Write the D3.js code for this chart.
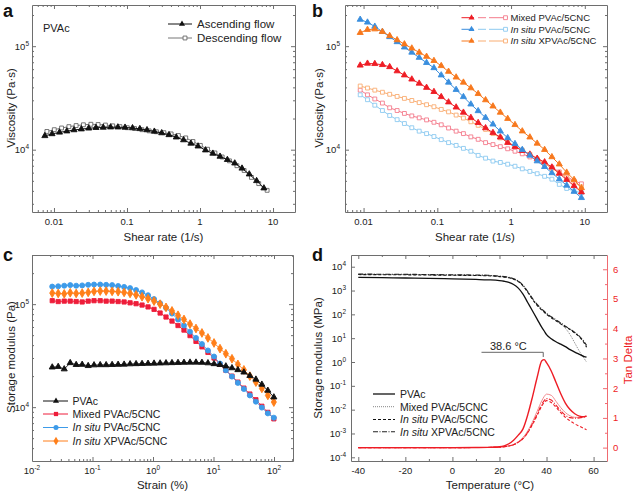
<!DOCTYPE html>
<html><head><meta charset="utf-8">
<script src="https://cdn.jsdelivr.net/npm/d3@7/dist/d3.min.js"></script>
<style>body{margin:0;background:#fff}svg{display:block}</style>
</head><body>
<svg id="c" width="633" height="494"></svg>
<script>
// ---------------- DATA ----------------
// Panel a
const aRateAsc = [0.0075,0.0094,0.0119,0.015,0.0188,0.0237,0.0299,0.0376,0.0473,0.0596,0.075,0.094,0.119,0.15,0.188,0.237,0.299,0.376,0.473,0.596,0.75,0.94,1.19,1.5,1.88,2.37,2.99,3.76,4.73,5.96,7.5];
const aAscending = [13600,14200,14700,15100,15500,15800,16100,16300,16400,16500,16500,16400,16200,15900,15500,15000,14500,13900,13200,12400,11500,10800,9900,9200,8600,8000,7400,6600,5800,5000,4250];
const aRateDesc = [0.008,0.0101,0.0127,0.016,0.0201,0.0253,0.032,0.0402,0.0506,0.0637,0.08,0.101,0.127,0.16,0.201,0.253,0.32,0.402,0.506,0.637,0.8,1.01,1.27,1.6,2.01,2.53,3.2,4.02,5.06,6.37,8.3];
const aDescending = [15000,15600,16200,16700,17100,17400,17600,17500,17300,17000,16700,16300,16000,15600,15200,14900,14600,14200,13700,13000,12000,11000,10100,9300,8500,7800,7000,6300,5400,4700,4050];
const aXTicks = [0.01,0.1,1,10];
const aXTickLabels = ["0.01","0.1","1","10"];
const viscTickExp = [4,5];

// Panel b
const bRate = [0.009,0.0113,0.0142,0.018,0.0226,0.0285,0.0358,0.0451,0.0568,0.0715,0.09,0.113,0.142,0.18,0.226,0.285,0.358,0.451,0.568,0.715,0.9,1.13,1.42,1.8,2.26,2.85,3.58,4.51,5.68,7.15,9.0];
const bMixedAsc = [65300,68100,67600,66100,63100,57500,52500,47900,43700,39800,36300,32400,28800,25700,22900,20400,18200,16200,14600,13200,11700,10700,9770,9020,8220,7590,6760,5890,5130,4470,3890];
const bInsituAsc = [181000,170000,155000,138000,123000,110000,97700,87100,77600,69200,61700,52500,44700,38000,32400,27500,23700,20400,17600,15100,13000,11400,10000,8810,7760,6840,5960,5190,4520,3940,3430];
const bXInsituAsc = [134900,144500,146200,138000,125900,114800,104700,95500,87100,79400,72400,64600,56900,50100,44700,39400,34700,30200,26300,22900,19950,17400,15100,13200,11500,10000,8510,7240,6030,5130,4270];
const bMixedDesc = [37600,33900,30900,28200,25400,23900,22400,21200,20300,19400,18400,17400,16200,15100,14300,13300,12600,11700,11200,10700,10200,9660,9120,8510,7940,7240,6760,6100,5500,5010,4680];
const bInsituDesc = [33900,30400,26900,23900,21400,19500,17900,16300,15100,14300,13400,12500,11700,11000,10300,9660,8810,8280,7760,7530,7240,6920,6530,6170,5860,5530,5190,4620,4220,3980,3850];
const bXInsituDesc = [41200,39400,37600,35900,34300,32700,31300,29900,28500,27200,26000,24500,23200,21600,20200,18600,17200,15700,14300,13000,11900,10800,9890,9020,8130,7330,6610,5960,5370,4840,4370];
const bSeriesNames = [["","Mixed PVAc/5CNC"],["In situ"," PVAc/5CNC"],["In situ"," XPVAc/5CNC"]];

// Panel c
const cStrain = [0.0216,0.0271,0.0341,0.0428,0.0537,0.0675,0.0848,0.106,0.134,0.168,0.211,0.265,0.333,0.418,0.525,0.659,0.828,1.04,1.31,1.64,2.06,2.59,3.25,4.09,5.13,6.44,8.09,10.2,12.8,16.0,20.2,25.3,31.8,39.9,50.2,63.0,79.1,99.4];
const cPVAc = [24400,24700,23400,26900,25800,25900,25200,25600,25700,25700,25800,25900,26000,26200,26300,26400,26500,26600,26700,26800,26900,27000,27100,27200,27200,27100,26800,26300,25800,25000,24000,23000,21800,20200,18600,16600,14500,12500];
const cMixed = [108000,106000,107000,107000,106000,105000,107000,108000,108000,107000,107000,106000,105000,103000,101000,98000,94000,89000,82000,75000,68500,62000,56000,49500,43500,38500,34000,30000,26000,22800,20000,17500,15300,13400,11800,10200,8900,7700];
const cInsitu = [148000,149000,151000,153000,151000,152000,154000,155000,155000,154000,153000,150000,147000,143000,137000,130000,122000,112000,102000,92000,81000,71000,62000,54000,47000,41000,35500,31000,26500,22800,19800,17200,15000,13000,11300,9900,8700,7900];
const cXInsitu = [128000,127000,126000,129000,127000,128000,130000,133000,134000,134000,133000,132000,130000,127000,123000,118000,113000,107000,100000,93000,86000,78000,71000,64000,58000,52500,47000,42000,37000,33000,29500,26000,23000,20000,17500,15200,13000,11200];
const cSeriesNames = [["","PVAc"],["","Mixed PVAc/5CNC"],["In situ"," PVAc/5CNC"],["In situ"," XPVAc/5CNC"]];
const cTickExp = [-2,-1,0,1,2];

// Panel d
const dTemp = [-40,-30,-20,-10,0,10,15,20,22,24,26,28,30,32,34,36,38,39,40,42,44,46,48,50,52,54,56,57];
const dEPVAc = [3590,3470,3350,3240,3090,2920,2820,2630,2450,2190,1780,1260,708,316,141,63,28.2,20,14.1,9.5,7.1,5.6,4.4,3.3,2.6,2.1,1.7,1.6];
const dEMixed = [4790,4730,4680,4570,4420,4320,4220,3890,3720,3470,3020,2400,1580,891,447,251,158,129,105,76,55,40,26,14.1,6.3,2.8,1.4,1.0];
const dEInsitu = [4680,4620,4570,4470,4370,4270,4170,3850,3670,3430,2990,2370,1550,851,427,240,151,123,100,72,54,40,30,23,16.6,11.2,6.3,4.2];
const dEXInsitu = [4900,4840,4790,4680,4570,4470,4370,4030,3850,3590,3130,2510,1660,912,468,263,166,135,110,79,59,44,32,24,17.4,12,7.1,5.0];
const dTanPVAc = [0,0,0,0,0,0.005,0.01,0.03,0.06,0.13,0.25,0.42,0.63,1.1,1.7,2.36,2.92,2.96,2.86,2.58,2.2,1.82,1.5,1.28,1.14,1.06,1.04,1.07];
const dTanMixed = [0,0,0,0,0,0.003,0.006,0.015,0.03,0.06,0.11,0.2,0.34,0.56,0.86,1.22,1.58,1.72,1.8,1.76,1.56,1.35,1.18,1.07,1.02,1.02,1.04,1.05];
const dTanInsitu = [0,0,0,0,0,0.003,0.006,0.015,0.03,0.055,0.1,0.18,0.3,0.5,0.77,1.08,1.4,1.52,1.58,1.52,1.36,1.18,1.02,0.9,0.8,0.72,0.64,0.6];
const dTanXInsitu = [0,0,0,0,0,0.003,0.006,0.015,0.03,0.055,0.1,0.18,0.31,0.51,0.8,1.12,1.46,1.58,1.65,1.6,1.43,1.24,1.09,1.01,0.99,1.0,1.03,1.05];
const dXTicks = [-40,-20,0,20,40,60];
const dLeftExp = [-4,-3,-2,-1,0,1,2,3,4];
const dRightTicks = [0,1,2,3,4,5,6];
const dPeakT = 38.6;

// ---------------- DRAWING ----------------
const FONT = '"Liberation Sans", Arial, Helvetica, sans-serif';
const FRAME = "#6e6e6e";
const svg = d3.select("#c").attr("font-family", FONT);

function logMajors(dom){const r=[];for(let e=Math.ceil(Math.log10(dom[0])-1e-9);e<=Math.floor(Math.log10(dom[1])+1e-9);e++)r.push(Math.pow(10,e));return r;}
function logMinors(dom){const r=[];for(let e=Math.floor(Math.log10(dom[0]));e<=Math.floor(Math.log10(dom[1]));e++)for(let m=2;m<=9;m++){const v=m*Math.pow(10,e);if(v>dom[0]&&v<dom[1])r.push(v);}return r;}

function ticks(g, axisFn, scale, tf, majors, minors, color, majLen, minLen){
  const gm = g.append("g").attr("transform", tf)
    .call(axisFn(scale).tickValues(majors).tickSize(-(majLen||4)).tickSizeOuter(0).tickFormat(""));
  gm.select(".domain").attr("stroke", color).attr("stroke-width", 1);
  gm.selectAll(".tick line").attr("stroke", color);
  if (minors && minors.length){
    const gn = g.append("g").attr("transform", tf)
      .call(axisFn(scale).tickValues(minors).tickSize(-(minLen||2)).tickSizeOuter(0).tickFormat(""));
    gn.select(".domain").remove();
    gn.selectAll(".tick line").attr("stroke", color);
  }
}
function frameAxes(g, x, y, box, xMaj, xMin, yMaj, yMin, rightColor){
  const [x0,y0,x1,y1] = box;
  ticks(g, d3.axisBottom, x, `translate(0,${y1})`, xMaj, xMin, FRAME);
  ticks(g, d3.axisTop, x, `translate(0,${y0})`, xMaj, xMin, FRAME);
  ticks(g, d3.axisLeft, y, `translate(${x0},0)`, yMaj, yMin, FRAME);
  if (!rightColor) ticks(g, d3.axisRight, y, `translate(${x1},0)`, yMaj, yMin, FRAME);
}
function supText(g, x, y, exp, anchor, size, color){
  const t = g.append("text").attr("x",x).attr("y",y).attr("text-anchor",anchor)
    .attr("font-size",size).attr("fill",color||"#222");
  t.append("tspan").text("10");
  t.append("tspan").attr("dy",-size*0.42).attr("font-size",size*0.68).text(String(exp));
  return t;
}
function label(g, x, y, txt, opts){
  opts = opts||{};
  const t = g.append("text").attr("x",x).attr("y",y).attr("font-size",opts.size||11)
    .attr("text-anchor",opts.anchor||"start").attr("fill",opts.color||"#222");
  if (opts.bold) t.attr("font-weight","bold");
  if (opts.rotate) t.attr("transform",`rotate(-90,${x},${y})`);
  if (Array.isArray(txt)){
    if (txt[0]) t.append("tspan").attr("font-style","italic").text(txt[0]);
    t.append("tspan").text(txt[1]);
  } else t.text(txt);
  return t;
}
function sym(type, size){ return d3.symbol().type(type).size(size)(); }
function series(g, x, y, xs, ys, color, lineW, symType, symSize, fill, stroke, dash){
  const pts = xs.map((v,i)=>[v, ys[i]]).filter(d=>d[1]!=null);
  g.append("path").datum(pts).attr("fill","none").attr("stroke",color).attr("stroke-width",lineW)
    .attr("stroke-dasharray", dash||null)
    .attr("d", d3.line().x(d=>x(d[0])).y(d=>y(d[1])));
  if (symType){
    g.selectAll(null).data(pts).join("path")
      .attr("transform", d=>`translate(${x(d[0])},${y(d[1])})`)
      .attr("d", sym(symType, symSize)).attr("fill", fill).attr("stroke", stroke).attr("stroke-width", 0.9);
  }
}

const TICKF = 9.5;

// ====== Panel a ======
{
  const box = [32,5,295,212];
  const x = d3.scaleLog().domain([0.005,20]).range([box[0],box[2]]);
  const y = d3.scaleLog().domain([2500,250000]).range([box[3],box[1]]);
  const g = svg.append("g");
  frameAxes(g, x, y, box, logMajors(x.domain()), logMinors(x.domain()), logMajors(y.domain()), logMinors(y.domain()));
  aXTicks.forEach((v,i)=>label(g, x(v), 225, aXTickLabels[i], {size:TICKF, anchor:"middle"}));
  viscTickExp.forEach(e=>supText(g, 29, y(Math.pow(10,e))+3.5, e, "end", TICKF));
  series(g, x, y, aRateDesc, aDescending, "#777", 1, d3.symbolSquare, 15, "#fff", "#666");
  series(g, x, y, aRateAsc, aAscending, "#111", 1, d3.symbolTriangle, 16, "#111", "#111");
  label(g, 163.5, 241, "Shear rate (1/s)", {size:11.5, anchor:"middle"});
  label(g, 15, 108, "Viscosity (Pa·s)", {size:11.5, anchor:"middle", rotate:true});
  label(g, 43, 32, "PVAc", {size:11});
  // legend
  g.append("line").attr("x1",168).attr("x2",192).attr("y1",24).attr("y2",24).attr("stroke","#111");
  g.append("path").attr("transform","translate(182,24)").attr("d",sym(d3.symbolTriangle,16)).attr("fill","#111");
  label(g, 197, 28, "Ascending flow", {size:11.5});
  g.append("line").attr("x1",168).attr("x2",192).attr("y1",38).attr("y2",38).attr("stroke","#777");
  g.append("path").attr("transform","translate(185,38)").attr("d",sym(d3.symbolSquare,15)).attr("fill","#fff").attr("stroke","#666").attr("stroke-width",0.9);
  label(g, 197, 42, "Descending flow", {size:11.5});
  label(g, 3, 16.5, "a", {size:18, bold:true, color:"#111"});
}

// ====== Panel b ======
{
  const box = [345,5,607,212];
  const x = d3.scaleLog().domain([0.0056,20]).range([box[0],box[2]]);
  const y = d3.scaleLog().domain([2500,250000]).range([box[3],box[1]]);
  const g = svg.append("g");
  frameAxes(g, x, y, box, logMajors(x.domain()), logMinors(x.domain()), logMajors(y.domain()), logMinors(y.domain()));
  aXTicks.forEach((v,i)=>label(g, x(v), 225, aXTickLabels[i], {size:TICKF, anchor:"middle"}));
  viscTickExp.forEach(e=>supText(g, 340, y(Math.pow(10,e))+3.5, e, "end", TICKF));
  const cols = [["#ee1d25","#f47c8c"],["#3a8ede","#8ccaf0"],["#f7781d","#f9ad72"]];
  const desc = [bMixedDesc, bInsituDesc, bXInsituDesc];
  const asc = [bMixedAsc, bInsituAsc, bXInsituAsc];
  desc.forEach((d,i)=>series(g, x, y, bRate, d, cols[i][1], 1, d3.symbolSquare, 15, "#fff", cols[i][1]));
  asc.forEach((d,i)=>series(g, x, y, bRate, d, cols[i][0], 1, d3.symbolTriangle, 16, cols[i][0], cols[i][0]));
  label(g, 475, 241, "Shear rate (1/s)", {size:11.5, anchor:"middle"});
  label(g, 323, 108, "Viscosity (Pa·s)", {size:11.5, anchor:"middle", rotate:true});
  [17.7,29.3,41].forEach((yy,i)=>{
    g.append("line").attr("x1",461.5).attr("x2",474).attr("y1",yy).attr("y2",yy).attr("stroke",cols[i][0]);
    g.append("line").attr("x1",478).attr("x2",486).attr("y1",yy).attr("y2",yy).attr("stroke",cols[i][1]);
    g.append("line").attr("x1",489).attr("x2",508).attr("y1",yy).attr("y2",yy).attr("stroke",cols[i][1]);
    g.append("path").attr("transform",`translate(471.5,${yy})`).attr("d",sym(d3.symbolTriangle,16)).attr("fill",cols[i][0]);
    g.append("path").attr("transform",`translate(505.5,${yy})`).attr("d",sym(d3.symbolSquare,15)).attr("fill","#fff").attr("stroke",cols[i][1]).attr("stroke-width",0.9);
    label(g, 510.5, yy+3.4, bSeriesNames[i], {size:9.5});
  });
  label(g, 312, 16.5, "b", {size:18, bold:true, color:"#111"});
}

// ====== Panel c ======
{
  const box = [32,255,293,461];
  const x = d3.scaleLog().domain([0.01,206]).range([box[0],box[2]]);
  const y = d3.scaleLog().domain([3000,300000]).range([box[3],box[1]]);
  const g = svg.append("g");
  frameAxes(g, x, y, box, logMajors(x.domain()), logMinors(x.domain()), logMajors(y.domain()), logMinors(y.domain()));
  cTickExp.forEach(e=>supText(g, x(Math.pow(10,e)), 474, e, "middle", TICKF));
  viscTickExp.forEach(e=>supText(g, 29, y(Math.pow(10,e))+3.5, e, "end", TICKF));
  const cols = ["#111","#ee1d3a","#3d9be9","#ff7f1a"];
  const types = [d3.symbolTriangle, d3.symbolSquare, d3.symbolCircle, d3.symbolDiamond];
  const sizes = [16, 18, 20, 22];
  const data = [cPVAc, cMixed, cInsitu, cXInsitu];
  [1,2,3,0].forEach(i=>series(g, x, y, cStrain, data[i], cols[i], 0.9, types[i], sizes[i], cols[i], cols[i]));
  label(g, 162.5, 489, "Strain (%)", {size:11.5, anchor:"middle"});
  label(g, 15, 357, "Storage modulus (Pa)", {size:11.5, anchor:"middle", rotate:true});
  [401,414,427.5,441].forEach((yy,i)=>{
    g.append("line").attr("x1",43).attr("x2",68).attr("y1",yy).attr("y2",yy).attr("stroke",cols[i]);
    g.append("path").attr("transform",`translate(56,${yy})`).attr("d",sym(types[i],sizes[i])).attr("fill",cols[i]);
    label(g, 72.5, yy+3.8, cSeriesNames[i], {size:10.5});
  });
  label(g, 3, 261, "c", {size:18, bold:true, color:"#111"});
}

// ====== Panel d ======
{
  const box = [351,255,607,461];
  const x = d3.scaleLinear().domain([-43.1,65.7]).range([box[0],box[2]]);
  const yL = d3.scaleLog().domain([7e-5,3.1e4]).range([box[3],box[1]]);
  const yR = d3.scaleLinear().domain([-0.45,6.48]).range([box[3],box[1]]);
  const RED = "#ee1c25";
  const g = svg.append("g");
  const xMin = [-30,-10,10,30,50];
  frameAxes(g, x, yL, box, dXTicks, xMin, logMajors(yL.domain()), [], true);
  ticks(g, d3.axisRight, yR, `translate(${box[2]},0)`, dRightTicks, [-0.5,0.5,1.5,2.5,3.5,4.5,5.5].filter(v=>v>-0.45), "#f06a70");
  dXTicks.forEach(v=>label(g, x(v), 474, String(v), {size:TICKF, anchor:"middle"}));
  dLeftExp.forEach(e=>supText(g, 346, yL(Math.pow(10,e))+3.5, e, "end", TICKF));
  dRightTicks.forEach(v=>label(g, 613, yR(v)+3.5, String(v), {size:TICKF, color:RED}));
  const lineL = d3.line().x((d,i)=>x(dTemp[i])).y(d=>yL(d)).curve(d3.curveMonotoneX);
  const lineR = d3.line().x((d,i)=>x(dTemp[i])).y(d=>yR(d)).curve(d3.curveMonotoneX);
  const styles = [
    {w:1.3, dash:null, cL:"#111", cR:RED},
    {w:0.8, dash:"1,1", cL:"#666", cR:"#f38a8f"},
    {w:1.1, dash:"3,2", cL:"#111", cR:RED},
    {w:1.1, dash:"5,1.5,1,1.5", cL:"#222", cR:RED}
  ];
  const E = [dEPVAc, dEMixed, dEInsitu, dEXInsitu];
  const T = [dTanPVAc, dTanMixed, dTanInsitu, dTanXInsitu];
  [1,2,3,0].forEach(i=>{
    g.append("path").datum(E[i]).attr("fill","none").attr("stroke",styles[i].cL).attr("stroke-width",styles[i].w).attr("stroke-dasharray",styles[i].dash).attr("d",lineL);
  });
  [1,2,3,0].forEach(i=>{
    g.append("path").datum(T[i]).attr("fill","none").attr("stroke",styles[i].cR).attr("stroke-width",i===0?1.4:(i===1?1:1.1)).attr("stroke-dasharray",i===1?null:styles[i].dash).attr("d",lineR);
  });
  // peak annotation
  const px = x(dPeakT);
  g.append("path").attr("d",`M${481.5},352.3H${px}V357`).attr("fill","none").attr("stroke","#555").attr("stroke-width",0.9);
  label(g, 490, 350, "38.6 °C", {size:11});
  label(g, 490, 489, "Temperature (°C)", {size:11.5, anchor:"middle"});
  label(g, 322, 358, "Storage modulus (MPa)", {size:11.5, anchor:"middle", rotate:true});
  label(g, 632, 360, "Tan Delta", {size:11.5, anchor:"middle", rotate:true, color:RED});
  const names = [["","PVAc"],["","Mixed PVAc/5CNC"],["In situ"," PVAc/5CNC"],["In situ"," XPVAc/5CNC"]];
  [394,406.7,419.5,431.7].forEach((yy,i)=>{
    g.append("line").attr("x1",373).attr("x2",395).attr("y1",yy).attr("y2",yy).attr("stroke",styles[i].cL).attr("stroke-width",styles[i].w).attr("stroke-dasharray",styles[i].dash);
    label(g, 400, yy+3.8, names[i], {size:10.5});
  });
  label(g, 312, 261, "d", {size:18, bold:true, color:"#111"});
}
</script>
</body></html>
